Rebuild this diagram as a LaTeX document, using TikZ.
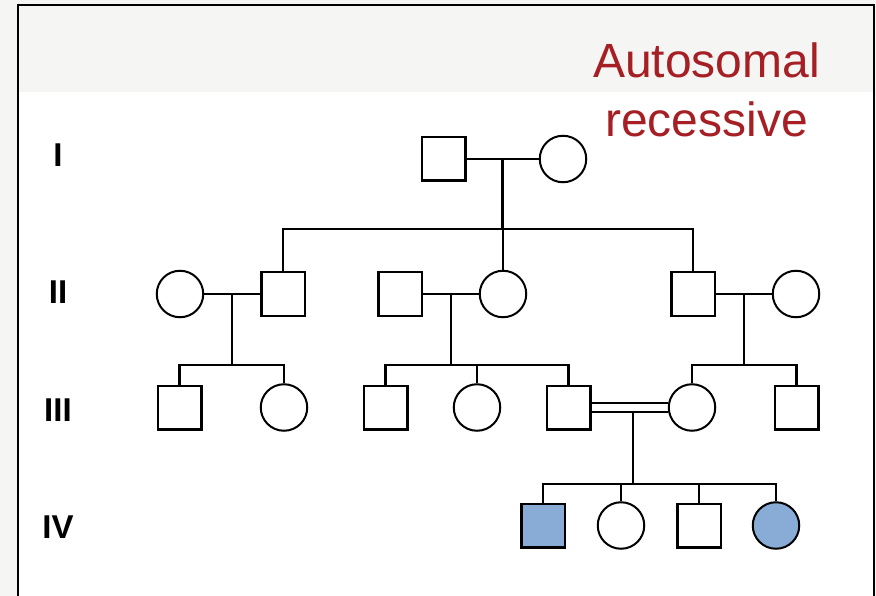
\documentclass[tikz,border=0pt]{standalone}
\usepackage{fontspec}
\setmainfont{Liberation Sans}
\usetikzlibrary{calc}
\definecolor{panelgray}{HTML}{F5F5F3}
\definecolor{titlered}{HTML}{A51F24}
\definecolor{affblue}{HTML}{88ACD6}
\begin{document}
\begin{tikzpicture}[x=1pt,y=-1pt,
  male/.style={draw, rectangle, minimum size=43.5pt, inner sep=0pt, line width=2.5pt},
  female/.style={draw, circle, minimum size=46.5pt, inner sep=0pt, line width=2pt},
  affected/.style={fill=affblue},
  mate/.style={line width=1.9pt},
  kin/.style={line width=2.3pt},
  genlabel/.style={anchor=base, inner sep=0pt, font=\fontsize{33}{36}\selectfont\bfseries},
  title/.style={anchor=base, inner sep=0pt, text=titlered, font=\fontsize{48}{59}\selectfont}]
\useasboundingbox (0,0) rectangle (876,596);
% backdrop, header band and frame
\fill[panelgray] (0,0) rectangle (876,596);
\fill[white] (18,92) rectangle (874,596);
\draw[line width=2.2pt] (18,596) -- (18,5) -- (874,5) -- (874,596);

% title
\node[title] (t1) at (706.5,78) {Autosomal};
\node[title] (t2) at (706.5,137) {recessive};

% generation labels
\node[genlabel] (gI) at (58,167) {I};
\node[genlabel] (gII) at (58,304) {II};
\node[genlabel] (gIII) at (58,421) {III};
\node[genlabel] (gIV) at (58,538) {IV};

% generation I
\node[male] (I1) at (443.5,159) {};
\node[female] (I2) at (563,159) {};

% generation II
\node[female] (II1) at (180,294) {};
\node[male] (II2) at (283,294) {};
\node[male] (II3) at (400,294) {};
\node[female] (II4) at (503,294) {};
\node[male] (II5) at (693,294) {};
\node[female] (II6) at (796,294) {};

% generation III
\node[male] (III1) at (179.5,407.5) {};
\node[female] (III2) at (284,407.5) {};
\node[male] (III3) at (385.5,407.5) {};
\node[female] (III4) at (477,407.5) {};
\node[male] (III5) at (568.5,407.5) {};
\node[female] (III6) at (692,407.5) {};
\node[male] (III7) at (796.5,407.5) {};

% generation IV
\node[male, affected] (IV1) at (543,525.5) {};
\node[female] (IV2) at (621,525.5) {};
\node[male] (IV3) at (699,525.5) {};
\node[female, affected] (IV4) at (776,525.5) {};

% matings and their drop points
\draw[mate] (I1.east) -- (I2.west);
\coordinate (mI) at ($(I1.east)!0.5!(I2.west)$);
\draw[mate] (II1.east) -- (II2.west);
\coordinate (mIIa) at ($(II1.east)!0.5!(II2.west)$);
\draw[mate] (II3.east) -- (II4.west);
\coordinate (mIIb) at ($(II3.east)!0.5!(II4.west)$);
\draw[mate] (II5.east) -- (II6.west);
\coordinate (mIIc) at ($(II5.east)!0.5!(II6.west)$);
% consanguineous mating
\draw[mate] ([yshift=-4.5pt]III5.east) -- ([yshift=-4.5pt]III6.west);
\draw[mate] ([yshift=4.5pt]III5.east) -- ([yshift=4.5pt]III6.west);
\coordinate (mIII) at (633,412);

% sibship lines
\coordinate (sI) at (mI |- 0,229);
\draw[kin] (mI) -- (sI);
\draw[kin] (II2.north) |- (sI) -| (II5.north);
\draw[kin] (II4.north) -- (II4.north |- sI);

\coordinate (sIIa) at (mIIa |- 0,365);
\draw[kin] (mIIa) -- (sIIa);
\draw[kin] (III1.north) |- (sIIa) -| (III2.north);

\coordinate (sIIb) at (mIIb |- 0,365);
\draw[kin] (mIIb) -- (sIIb);
\draw[kin] (III3.north) |- (sIIb) -| (III5.north);
\draw[kin] (III4.north) -- (III4.north |- sIIb);

\coordinate (sIIc) at (mIIc |- 0,365);
\draw[kin] (mIIc) -- (sIIc);
\draw[kin] (III6.north) |- (sIIc) -| (III7.north);

\coordinate (sIII) at (mIII |- 0,484);
\draw[kin] (mIII) -- (sIII);
\draw[kin] (IV1.north) |- (sIII) -| (IV4.north);
\draw[kin] (IV2.north) -- (IV2.north |- sIII);
\draw[kin] (IV3.north) -- (IV3.north |- sIII);
\end{tikzpicture}
\end{document}
